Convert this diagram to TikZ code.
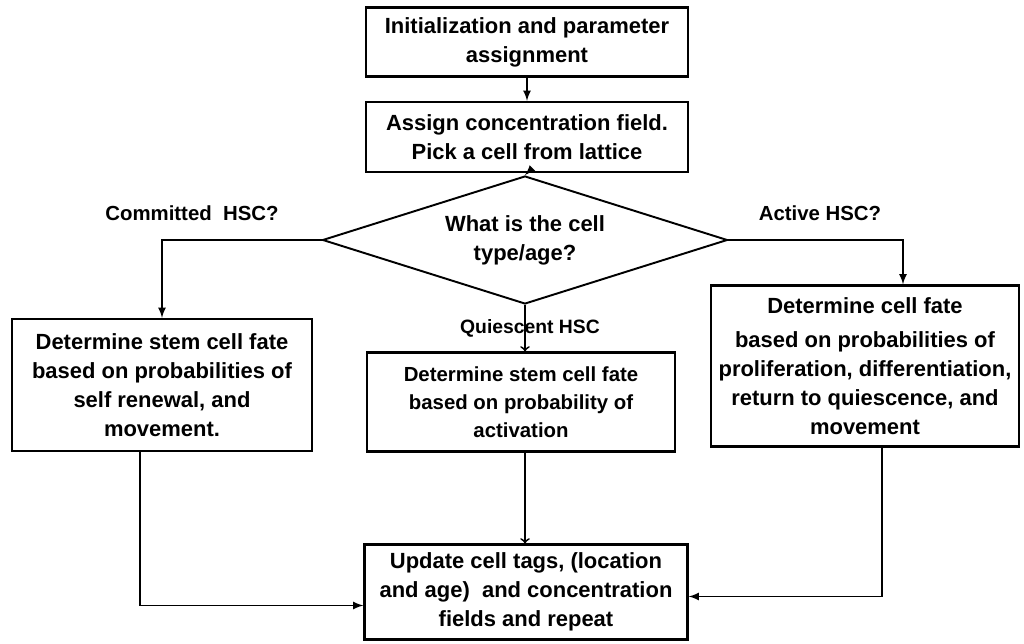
\documentclass[tikz,border=0pt]{standalone}
\usepackage{fontspec}
\setmainfont{Liberation Sans}
\usetikzlibrary{shapes.geometric, arrows, positioning, calc}

\begin{document}
\begin{tikzpicture}[
            x=0.02cm, y=-0.02cm,
            stepbox/.style={rectangle, draw=black, line width=1.3pt, align=center, inner sep=2pt, font=\bfseries\fontsize{12.5}{16.5}\selectfont},
            decision/.style={diamond, draw=black, line width=1.1pt, aspect=3.16, inner sep=0pt, minimum width=8.1cm, minimum height=2.56cm, align=center, font=\bfseries\fontsize{12.5}{16.5}\selectfont},
            branch/.style={font=\bfseries\fontsize{11.6}{14}\selectfont},
            flow/.style={-latex, line width=1pt},
            vflow/.style={->, line width=1pt}
        ]
\useasboundingbox (0,0) rectangle (1024,644);

% Main steps
            \node[stepbox, minimum width=6.44cm, minimum height=1.38cm] (init) at (527,42) {Initialization and parameter\\assignment};
            \node[stepbox, minimum width=6.44cm, minimum height=1.4cm] (assign) at (527,137) {Assign concentration field.\\Pick a cell from lattice};
            \node[decision] (celltype) at (525,240) {What is the cell\\type/age?};

% Cell fates
            \node[stepbox, minimum width=6cm, minimum height=2.64cm] (committed) at (162,385) {Determine stem cell fate\\based on probabilities of\\self renewal, and\\movement.};
            \node[stepbox, minimum width=6.16cm, minimum height=1.98cm, font=\bfseries\fontsize{11.6}{16}\selectfont] (quiescent) at (521,402) {Determine stem cell fate\\based on probability of\\activation};
            \node[stepbox, minimum width=6.16cm, minimum height=3.22cm] (active) at (865,366) {Determine cell fate\\[3pt]based on probabilities of\\proliferation, differentiation,\\return to quiescence, and\\movement};

% Update
            \node[stepbox, minimum width=6.46cm, minimum height=1.9cm] (update) at (526,592) {Update cell tags, (location\\and age)\ \ and concentration\\fields and repeat};

% Branch labels
            \node[branch] (lcommitted) at (192,213) {Committed\ \ HSC?};
            \node[branch] (lactive) at (820,213) {Active HSC?};
            \node[branch, font=\bfseries\fontsize{11}{13}\selectfont] (lquiescent) at (530,328) {Quiescent HSC};

% Flow
            \draw[flow] (init) -- (assign);
            \draw[flow] (assign.south) -- (celltype.north);
            \draw[flow] (celltype.west) -| (committed.north);
            \draw[flow] (celltype.east) -| ([xshift=0.76cm]active.north);
            \draw[vflow] (celltype.south) -- (quiescent.north -| celltype.south);
            \draw[vflow] (quiescent.south -| celltype.south) -- (update.north -| celltype.south);
            \draw[flow] ([xshift=-0.44cm]committed.south) |- ([yshift=-0.27cm]update.west);
            \draw[flow] ([xshift=0.34cm]active.south) |- ([yshift=-0.09cm]update.east);

        \end{tikzpicture}
\end{document}
